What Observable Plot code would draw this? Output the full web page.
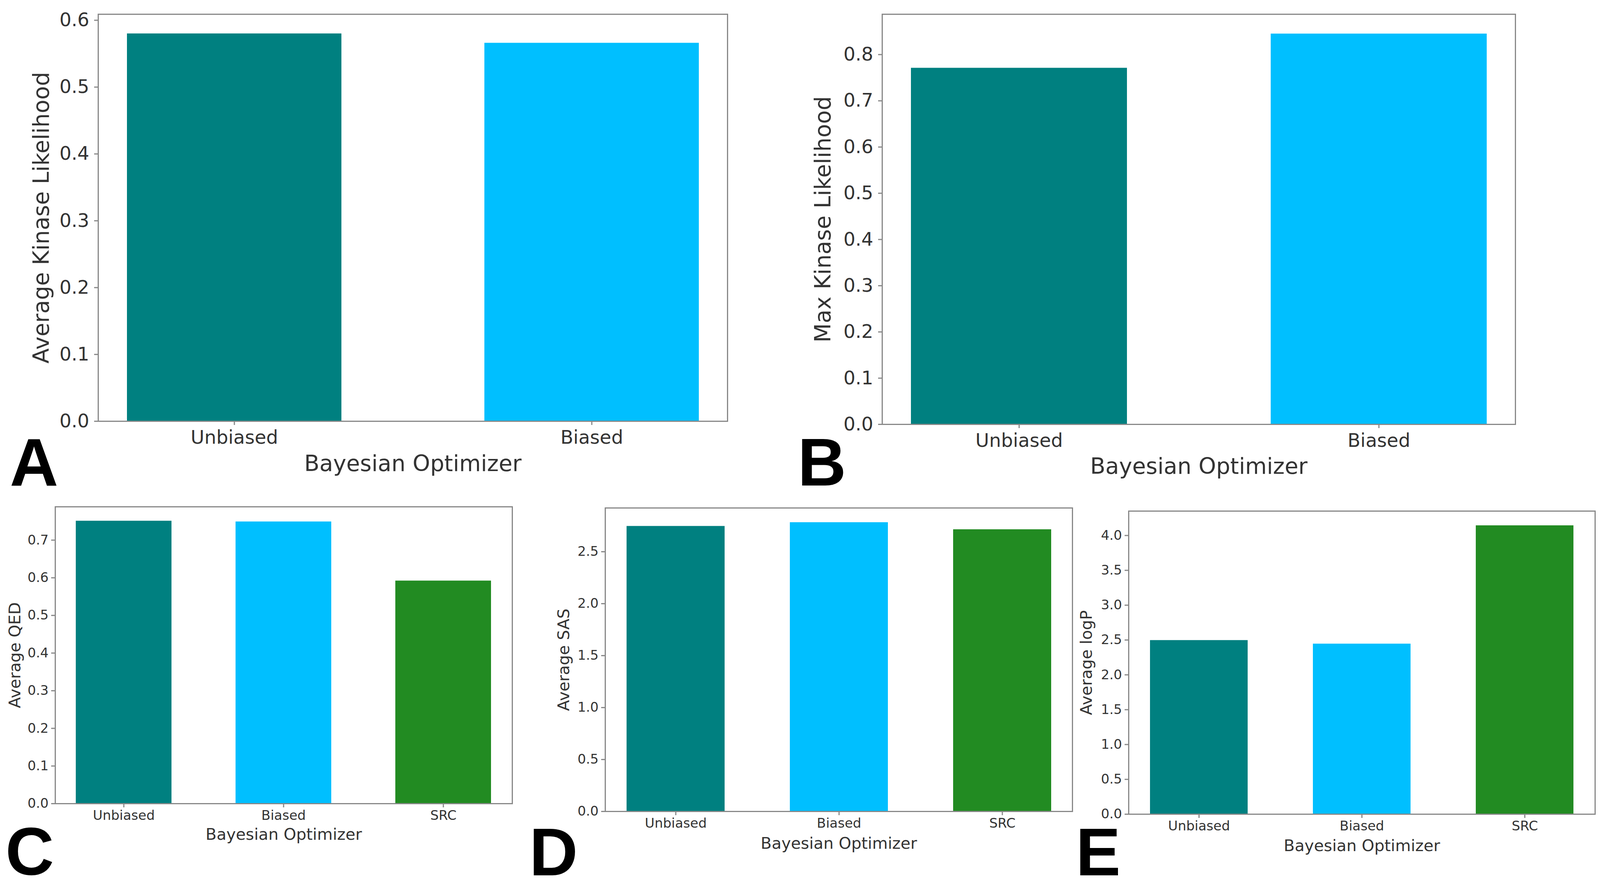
<!DOCTYPE html>
<html>
<head>
<meta charset="utf-8">
<script src="https://cdn.jsdelivr.net/npm/d3@7"></script>
<script src="https://cdn.jsdelivr.net/npm/@observablehq/plot@0.6"></script>
<style>
  html, body { margin: 0; padding: 0; background: #fff; }
  #page { position: relative; width: 4108px; height: 2276px; background: #fff; overflow: hidden; }
  .panel { position: absolute; }
  .letter { position: absolute; font-family: "Liberation Sans", Arial, sans-serif; font-weight: bold; font-size: 172px; line-height: 0.75; letter-spacing: -0.35em; color: #000; white-space: nowrap; }
</style>
</head>
<body>
<div id="page"></div>
<script>
// ---- data ----
const catsTwo = ["Unbiased", "Biased"];
const catsThree = ["Unbiased", "Biased", "SRC"];
const barColors = ["#008080", "#00BFFF", "#228B22"];

const avgKinase = [0.580, 0.566];
const maxKinase = [0.771, 0.845];
const avgQED = [0.751, 0.749, 0.592];
const avgSAS = [2.746, 2.782, 2.714];
const avgLogP = [2.496, 2.445, 4.143];

const ticksA = [0.0, 0.1, 0.2, 0.3, 0.4, 0.5, 0.6];
const ticksB = [0.0, 0.1, 0.2, 0.3, 0.4, 0.5, 0.6, 0.7, 0.8];
const ticksC = [0.0, 0.1, 0.2, 0.3, 0.4, 0.5, 0.6, 0.7];
const ticksD = [0.0, 0.5, 1.0, 1.5, 2.0, 2.5];
const ticksE = [0.0, 0.5, 1.0, 1.5, 2.0, 2.5, 3.0, 3.5, 4.0];

const xTitle = "Bayesian Optimizer";
const yTitles = ["Average Kinase Likelihood", "Max Kinase Likelihood", "Average QED", "Average SAS", "Average logP"];
const panelLetters = ["A", "B", "C", "D", "E"];

// ---- layout ----
const page = document.getElementById("page");
const textColor = "#333";
const lineColor = "#888";

function panel(cfg) {
  const data = cfg.cats.map((c, i) => ({cat: c, value: cfg.values[i], color: barColors[i]}));
  const chart = Plot.plot({
    width: cfg.width,
    height: cfg.height,
    marginLeft: cfg.ml,
    marginRight: cfg.mr,
    marginTop: cfg.mt,
    marginBottom: cfg.mb,
    style: {background: "transparent", fontFamily: "DejaVu Sans", maxWidth: "none", overflow: "visible"},
    x: {type: "band", domain: cfg.cats, paddingInner: 0.4, paddingOuter: cfg.outer, align: 0.5},
    y: {domain: [0, d3.max(cfg.values) * 1.05]},
    color: {type: "identity"},
    marks: [
      Plot.barY(data, {x: "cat", y: "value", fill: "color"}),
      Plot.frame({stroke: lineColor, strokeWidth: 3}),
      Plot.axisY({ticks: cfg.ticks, tickFormat: d => d.toFixed(1), tickSize: 10, tickPadding: cfg.tickPad,
                  fontSize: cfg.tickFont, stroke: lineColor, strokeWidth: 3, fill: textColor, label: null}),
      Plot.axisX({tickSize: 10, tickPadding: cfg.tickPad, fontSize: cfg.tickFont,
                  stroke: lineColor, strokeWidth: 3, fill: textColor, label: null}),
      Plot.text([cfg.ylabel], {frameAnchor: "left", rotate: -90, dx: cfg.ylabelDx, text: d => d,
                  fontSize: cfg.labelFont, fill: textColor, textAnchor: "middle", lineAnchor: "middle"}),
      Plot.text([xTitle], {frameAnchor: "bottom", dy: cfg.xlabelDy, text: d => d,
                  fontSize: cfg.labelFont, fill: textColor, textAnchor: "middle", lineAnchor: "top"})
    ]
  });
  const div = document.createElement("div");
  div.className = "panel";
  div.style.left = cfg.left + "px";
  div.style.top = cfg.top + "px";
  div.style.width = cfg.width + "px";
  div.style.height = cfg.height + "px";
  div.appendChild(chart);
  page.appendChild(div);
}

function letter(t, left, baseline) {
  const d = document.createElement("div");
  d.className = "letter";
  d.textContent = t;
  d.style.left = left + "px";
  d.style.top = (baseline - 124) + "px";
  page.appendChild(d);
}

panel({left: 0, top: 0, width: 1940, height: 1260, ml: 251, mr: 78, mt: 36, mb: 182, outer: 0.08,
       cats: catsTwo, values: avgKinase, ticks: ticksA, ylabel: yTitles[0],
       ylabelDx: -145, xlabelDy: 87, tickFont: 48, labelFont: 57, tickPad: 13});
panel({left: 2000, top: 0, width: 1950, height: 1260, ml: 258, mr: 71, mt: 36, mb: 174, outer: 0.08,
       cats: catsTwo, values: maxKinase, ticks: ticksB, ylabel: yTitles[1],
       ylabelDx: -151, xlabelDy: 86, tickFont: 48, labelFont: 57, tickPad: 13});
panel({left: 0, top: 1250, width: 1380, height: 1000, ml: 141, mr: 69, mt: 47, mb: 193, outer: 0.13,
       cats: catsThree, values: avgQED, ticks: ticksC, ylabel: yTitles[2],
       ylabelDx: -103, xlabelDy: 63, tickFont: 34, labelFont: 41, tickPad: 7});
panel({left: 1380, top: 1250, width: 1380, height: 1000, ml: 169, mr: 15, mt: 50, mb: 173, outer: 0.13,
       cats: catsThree, values: avgSAS, ticks: ticksD, ylabel: yTitles[3],
       ylabelDx: -106, xlabelDy: 66, tickFont: 34, labelFont: 41, tickPad: 7});
panel({left: 2740, top: 1250, width: 1368, height: 1000, ml: 149, mr: 25, mt: 58, mb: 166, outer: 0.13,
       cats: catsThree, values: avgLogP, ticks: ticksE, ylabel: yTitles[4],
       ylabelDx: -108, xlabelDy: 65, tickFont: 34, labelFont: 41, tickPad: 7});

letter(panelLetters[0], 25, 1243);
letter(panelLetters[1], 2042, 1243);
letter(panelLetters[2], 14, 2239);
letter(panelLetters[3], 1355, 2241);
letter(panelLetters[4], 2754, 2241);
</script>
</body>
</html>
